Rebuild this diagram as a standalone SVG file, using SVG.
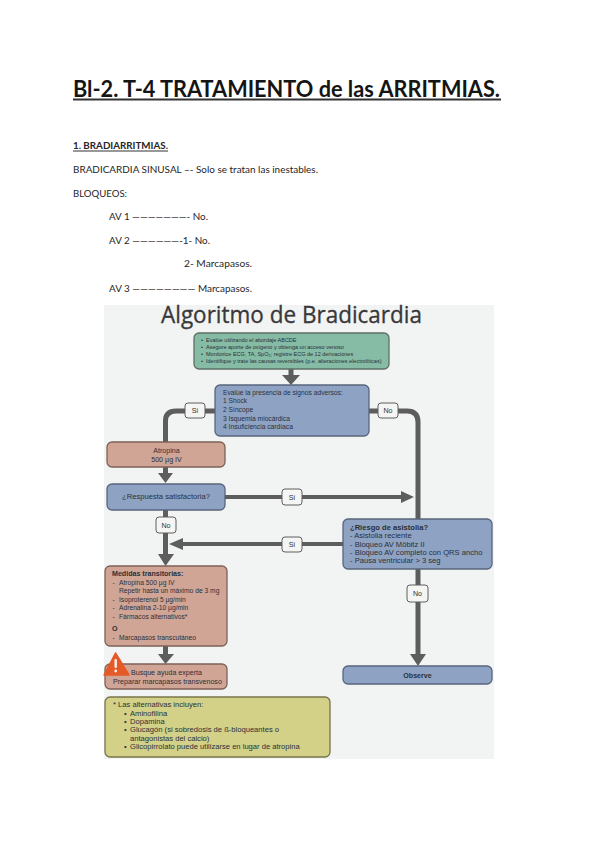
<svg xmlns="http://www.w3.org/2000/svg" width="599" height="848" viewBox="0 0 599 848">
<defs>
<style>
.doc{font-family:Lato,"Liberation Sans",sans-serif;font-size:9.6px;fill:#262626}
.ttl{font-family:Lato,"Liberation Sans",sans-serif;font-weight:700;font-size:23.5px;fill:#151515}
.b{stroke-width:1.3}
.g{fill:#86bba5;stroke:#5f6f66}
.bl{fill:#8ea3c4;stroke:#58657c}
.r{fill:#d0a596;stroke:#7d6257}
.y{fill:#d3d088;stroke:#78754a}
.lab{fill:#f5f5f3;stroke:#5f5f5f;stroke-width:1}
.t{font-family:"Liberation Sans",Arial,sans-serif;font-size:7.1px;fill:#2a3038}
.s{font-size:5.5px}
.n{font-size:6.7px}
.w{font-size:7.6px}
.c{text-anchor:middle}
.strong{font-weight:700}
.line{fill:none;stroke:#5d5d5d;stroke-width:5}
.thin{fill:none;stroke:#5d5d5d;stroke-width:4}
.head{fill:#5d5d5d}
</style>
</defs>
<rect width="599" height="848" fill="#ffffff"/>
<g id="document-text">
<text class="ttl" x="73" y="97" textLength="427" lengthAdjust="spacingAndGlyphs">Bl-2. T-4 TRATAMIENTO de las ARRITMIAS.</text>
<rect x="73" y="98.500" width="428" height="2" fill="#333333"/>
<text class="doc" x="73" y="149" font-weight="700" textLength="95" lengthAdjust="spacingAndGlyphs">1. BRADIARRITMIAS.</text>
<rect x="73" y="150.500" width="95" height="1" fill="#333333"/>
<text class="doc" x="73" y="173" textLength="245" lengthAdjust="spacingAndGlyphs">BRADICARDIA SINUSAL –- Solo se tratan las inestables.</text>
<text class="doc" x="73" y="197" textLength="54" lengthAdjust="spacingAndGlyphs">BLOQUEOS:</text>
<text class="doc" x="109" y="220" textLength="99" lengthAdjust="spacingAndGlyphs">AV 1 ———————- No.</text>
<text class="doc" x="109" y="244" textLength="101" lengthAdjust="spacingAndGlyphs">AV 2 ——————-1- No.</text>
<text class="doc" x="184" y="267" textLength="68" lengthAdjust="spacingAndGlyphs">2- Marcapasos.</text>
<text class="doc" x="109" y="292" textLength="143" lengthAdjust="spacingAndGlyphs">AV 3 ———————— Marcapasos.</text>
</g>
<rect id="panel" x="104" y="305" width="390" height="454" fill="#f2f3f3"/>
<text id="chart-title" x="161" y="323" font-family="'Open Sans','Liberation Sans',sans-serif" font-size="23" fill="#38383a" stroke="#38383a" stroke-width="0.300" textLength="261" lengthAdjust="spacingAndGlyphs">Algoritmo de Bradicardia</text>
<g id="connectors">
<path class="line" d="M291 369V377"/>
<path class="head" d="M282 375H300L291 385Z"/>
<path class="line" d="M215 411H176Q165.500 411 165.500 421V442"/>
<path class="line" d="M369 411H407Q418 411 418 422V519"/>
<path class="line" d="M165.500 467V475"/>
<path class="head" d="M158 473H173L165.500 483Z"/>
<path class="thin" d="M225 497H408"/>
<path class="head" d="M401 491L414 497L401 503Z"/>
<path class="line" d="M165.500 510V558"/>
<path class="head" d="M158 554H174L165.500 566Z"/>
<path class="thin" d="M343 544H176"/>
<path class="head" d="M183 538L169 544L183 550Z"/>
<path class="line" d="M418 569V660"/>
<path class="head" d="M410 654H426L418 666Z"/>
<path class="line" d="M165.500 646V656"/>
<path class="head" d="M158 654H174L165.500 664Z"/>
</g>
<g id="node-evalue" class="b">
<rect class="g" x="194" y="333" width="195" height="36" rx="5"/>
<text class="t s" y="342"><tspan x="201">•</tspan><tspan x="206">Evalúe utilizando el abordaje ABCDE</tspan></text>
<text class="t s" y="349"><tspan x="201">•</tspan><tspan x="206">Asegure aporte de oxígeno y obtenga un acceso venoso</tspan></text>
<text class="t s" y="356"><tspan x="201">•</tspan><tspan x="206">Monitorice ECG, TA, SpO₂; registre ECG de 12 derivaciones</tspan></text>
<text class="t s" y="363"><tspan x="201">•</tspan><tspan x="206">Identifique y trate las causas reversibles (p.e. alteraciones electrolíticas)</tspan></text>
</g>
<g id="node-signos" class="b">
<rect class="bl" x="215" y="385" width="154" height="51" rx="5"/>
<text class="t n" x="223" y="395">Evalúe la presencia de signos adversos:</text>
<text class="t n" x="223" y="403">1  Shock</text>
<text class="t n" x="223" y="412">2  Síncope</text>
<text class="t n" x="223" y="420.500">3  Isquemia miocárdica</text>
<text class="t n" x="223" y="429">4  Insuficiencia cardíaca</text>
</g>
<g id="label-si-1"><rect class="lab" x="185" y="403" width="20" height="15" rx="3"/><text class="t c" x="195" y="413">Sí</text></g>
<g id="label-no-1"><rect class="lab" x="378" y="403" width="20" height="15" rx="3"/><text class="t c" x="388" y="413">No</text></g>
<g id="node-atropina" class="b">
<rect class="r" x="107" y="442" width="118" height="25" rx="5"/>
<text class="t c" x="166.500" y="452.500">Atropina</text>
<text class="t c" x="166.500" y="461.500">500 µg IV</text>
</g>
<g id="node-respuesta" class="b">
<rect class="bl" x="107" y="484" width="118" height="26" rx="5"/>
<text class="t c w" x="166" y="499">¿Respuesta satisfactoria?</text>
</g>
<g id="label-si-2"><rect class="lab" x="282" y="489" width="20" height="16" rx="3"/><text class="t c" x="292" y="499.500">Sí</text></g>
<g id="label-no-2"><rect class="lab" x="156" y="517" width="20" height="16" rx="3"/><text class="t c" x="166" y="527.500">No</text></g>
<g id="label-si-3"><rect class="lab" x="282" y="537" width="20" height="15" rx="3"/><text class="t c" x="292" y="547">Sí</text></g>
<g id="node-riesgo" class="b">
<rect class="bl" x="343" y="519" width="149" height="50" rx="5"/>
<text class="t strong w" x="350" y="529.500">¿Riesgo de asistolia?</text>
<text class="t w" x="350" y="538">- Asistolia reciente</text>
<text class="t w" x="350" y="546.500">- Bloqueo AV Möbitz II</text>
<text class="t w" x="350" y="554.500">- Bloqueo AV completo con QRS ancho</text>
<text class="t w" x="350" y="563">- Pausa ventricular &gt; 3 seg</text>
</g>
<g id="label-no-3"><rect class="lab" x="407" y="585" width="21" height="17" rx="3"/><text class="t c" x="417.500" y="595.500">No</text></g>
<g id="node-medidas" class="b">
<rect class="r" x="105" y="566" width="122" height="80" rx="5"/>
<text class="t strong" x="112" y="576">Medidas transitorias:</text>
<text class="t n" y="585"><tspan x="112.500">-</tspan><tspan x="119">Atropina 500 µg IV</tspan></text>
<text class="t n" x="119" y="593">Repetir hasta un máximo de 3 mg</text>
<text class="t n" y="602"><tspan x="112.500">-</tspan><tspan x="119">Isoproterenol 5 µg/min</tspan></text>
<text class="t n" y="610"><tspan x="112.500">-</tspan><tspan x="119">Adrenalina 2-10 µg/min</tspan></text>
<text class="t n" y="619"><tspan x="112.500">-</tspan><tspan x="119">Fármacos alternativos*</tspan></text>
<text class="t strong" x="112" y="631">O</text>
<text class="t n" y="640"><tspan x="112.500">-</tspan><tspan x="119">Marcapasos transcutáneo</tspan></text>
</g>
<g id="node-busque" class="b">
<rect class="r" x="105" y="664" width="122" height="25" rx="5"/>
<text class="t" x="131" y="675">Busque ayuda experta</text>
<text class="t" x="113" y="683.500">Preparar marcapasos transvenoso</text>
<path id="warning" d="M115.500 653L129 675H104Z" fill="#e65a28" stroke="#e65a28" stroke-linejoin="round" stroke-width="1.500"/>
<rect x="114.500" y="659" width="2.400" height="9" rx="1" fill="#f7f1ea"/>
<circle cx="115.700" cy="671" r="1.400" fill="#f7f1ea"/>
</g>
<g id="node-observe" class="b">
<rect class="bl" x="343" y="666" width="149" height="18" rx="5"/>
<text class="t strong c" x="417.500" y="677.500">Observe</text>
</g>
<g id="node-alternativas" class="b">
<rect class="y" x="105" y="697" width="225" height="60" rx="5"/>
<text class="t w" x="113" y="707">* Las alternativas incluyen:</text>
<text class="t w" y="715.500"><tspan x="124">•</tspan><tspan x="130">Aminofilina</tspan></text>
<text class="t w" y="723.500"><tspan x="124">•</tspan><tspan x="130">Dopamina</tspan></text>
<text class="t w" y="732"><tspan x="124">•</tspan><tspan x="130">Glucagón (si sobredosis de ß-bloqueantes o</tspan></text>
<text class="t w" x="130" y="740.500">antagonistas del calcio)</text>
<text class="t w" y="749"><tspan x="124">•</tspan><tspan x="130">Glicopirrolato puede utilizarse en lugar de atropina</tspan></text>
</g>
</svg>
